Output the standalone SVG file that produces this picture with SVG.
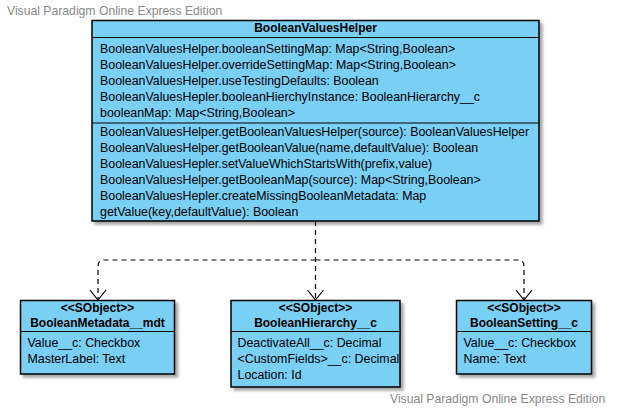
<svg xmlns="http://www.w3.org/2000/svg" width="618" height="415" viewBox="0 0 618 415">
<defs>
<filter id="sh" x="-10%" y="-10%" width="130%" height="130%">
<feGaussianBlur in="SourceAlpha" stdDeviation="1.5"/>
<feOffset dx="3" dy="3" result="b"/>
<feComponentTransfer><feFuncA type="linear" slope="0.35"/></feComponentTransfer>
<feMerge><feMergeNode/><feMergeNode in="SourceGraphic"/></feMerge>
</filter>
</defs>
<style>
.box{fill:#7acff5;stroke:#000;stroke-width:1.5}
.sep{stroke:#000;stroke-width:1}
text{font-family:"Liberation Sans",Arial,sans-serif;font-size:12.4px;fill:#000}
.b{font-weight:bold;text-anchor:middle;font-size:12px}
.wm{fill:#888;font-size:12.2px}
.con{fill:none;stroke:#000;stroke-width:1.2;stroke-dasharray:5,4}
.ah{fill:none;stroke:#000;stroke-width:1.2}
</style>
<text class="wm" x="7" y="15">Visual Paradigm Online Express Edition</text>
<text class="wm" x="390" y="403">Visual Paradigm Online Express Edition</text>

<g id="connectors">
<path class="con" d="M315.5,221 V300"/>
<path class="con" d="M315.5,260 H104 Q98,260 98,266 V300"/>
<path class="con" d="M315.5,260 H518 Q524,260 524,266 V300"/>
<path class="ah" d="M307.5,290 L315.5,300 L323.5,290"/>
<path class="ah" d="M90,290 L98,300 L106,290"/>
<path class="ah" d="M516,290 L524,300 L532,290"/>
</g>

<g id="BooleanValuesHelper">
<rect class="box" x="92" y="20.5" width="447" height="200.5" filter="url(#sh)"/>
<line class="sep" x1="92" y1="37.5" x2="539" y2="37.5"/>
<line class="sep" x1="92" y1="123" x2="539" y2="123"/>
<text class="b" x="315.5" y="32">BooleanValuesHelper</text>
<text x="100" y="52.5">BooleanValuesHelper.booleanSettingMap: Map&lt;String,Boolean&gt;</text>
<text x="100" y="68.5">BooleanValuesHelper.overrideSettingMap: Map&lt;String,Boolean&gt;</text>
<text x="100" y="84.5">BooleanValuesHelper.useTestingDefaults: Boolean</text>
<text x="100" y="100.5">BooleanValuesHepler.booleanHierchyInstance: BooleanHierarchy__c</text>
<text x="100" y="116.5">booleanMap: Map&lt;String,Boolean&gt;</text>
<text x="100" y="135.5">BooleanValuesHelper.getBooleanValuesHelper(source): BooleanValuesHelper</text>
<text x="100" y="151.5">BooleanValuesHelper.getBooleanValue(name,defaultValue): Boolean</text>
<text x="100" y="167.5">BooleanValuesHepler.setValueWhichStartsWith(prefix,value)</text>
<text x="100" y="183.5">BooleanValuesHelper.getBooleanMap(source): Map&lt;String,Boolean&gt;</text>
<text x="100" y="199.5">BooleanValuesHepler.createMissingBooleanMetadata: Map</text>
<text x="100" y="215.5">getValue(key,defaultValue): Boolean</text>
</g>

<g id="BooleanMetadata__mdt">
<rect class="box" x="20.5" y="300.5" width="154" height="73.5" filter="url(#sh)"/>
<line class="sep" x1="20.5" y1="331.5" x2="174.5" y2="331.5"/>
<text class="b" x="97.5" y="312">&lt;&lt;SObject&gt;&gt;</text>
<text class="b" x="97.5" y="326.5">BooleanMetadata__mdt</text>
<text x="27.5" y="347">Value__c: Checkbox</text>
<text x="27.5" y="363">MasterLabel: Text</text>
</g>

<g id="BooleanHierarchy__c">
<rect class="box" x="231" y="300.5" width="169" height="86.5" filter="url(#sh)"/>
<line class="sep" x1="231" y1="331.5" x2="400" y2="331.5"/>
<text class="b" x="315.5" y="312">&lt;&lt;SObject&gt;&gt;</text>
<text class="b" x="315.5" y="326.5">BooleanHierarchy__c</text>
<text x="237.5" y="347">DeactivateAll__c: Decimal</text>
<text x="237.5" y="363">&lt;CustomFields&gt;__c: Decimal</text>
<text x="237.5" y="379">Location: Id</text>
</g>

<g id="BooleanSetting__c">
<rect class="box" x="456.5" y="300.5" width="135" height="73.5" filter="url(#sh)"/>
<line class="sep" x1="456.5" y1="331.5" x2="591.5" y2="331.5"/>
<text class="b" x="524" y="312">&lt;&lt;SObject&gt;&gt;</text>
<text class="b" x="524" y="326.5">BooleanSetting__c</text>
<text x="463.5" y="347">Value__c: Checkbox</text>
<text x="463.5" y="363">Name: Text</text>
</g>
</svg>
